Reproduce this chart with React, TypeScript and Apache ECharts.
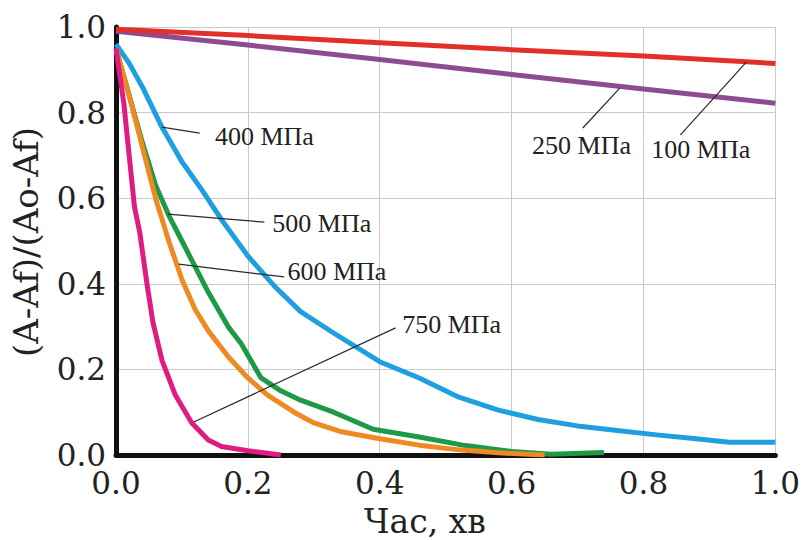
import React, { useEffect, useRef } from "react";
import * as echarts from "echarts";

// ---- data ----
const t100 = [0, 0.2, 0.4, 0.6, 0.8, 1.0];
const v100 = [0.995, 0.98, 0.963, 0.947, 0.932, 0.915];

const t250 = [0, 0.2, 0.4, 0.6, 0.8, 1.0];
const v250 = [0.99, 0.958, 0.924, 0.889, 0.855, 0.822];

const t400 = [0, 0.02, 0.04, 0.07, 0.1, 0.13, 0.16, 0.2, 0.24, 0.28, 0.33, 0.4, 0.46, 0.52, 0.58, 0.64, 0.7, 0.76, 0.82, 0.88, 0.93, 1.0];
const v400 = [0.96, 0.915, 0.86, 0.765, 0.685, 0.62, 0.55, 0.465, 0.395, 0.335, 0.285, 0.218, 0.18, 0.135, 0.105, 0.083, 0.068, 0.057, 0.047, 0.038, 0.03, 0.03];

const t500 = [0, 0.02, 0.04, 0.06, 0.08, 0.1, 0.12, 0.14, 0.17, 0.19, 0.22, 0.25, 0.28, 0.33, 0.39, 0.46, 0.53, 0.6, 0.66, 0.74];
const v500 = [0.95, 0.84, 0.73, 0.63, 0.56, 0.5, 0.44, 0.38, 0.3, 0.26, 0.18, 0.15, 0.128, 0.1, 0.06, 0.042, 0.022, 0.008, 0.002, 0.006];

const t600 = [0, 0.02, 0.04, 0.06, 0.08, 0.1, 0.12, 0.14, 0.17, 0.2, 0.23, 0.27, 0.3, 0.34, 0.4, 0.46, 0.52, 0.58, 0.65];
const v600 = [0.95, 0.84, 0.72, 0.6, 0.5, 0.41, 0.34, 0.29, 0.23, 0.18, 0.14, 0.1, 0.075, 0.055, 0.038, 0.023, 0.012, 0.005, 0.0];

const t750 = [0, 0.012, 0.02, 0.028, 0.036, 0.047, 0.056, 0.07, 0.09, 0.115, 0.14, 0.16, 0.2, 0.25];
const v750 = [0.95, 0.82, 0.7, 0.58, 0.52, 0.4, 0.31, 0.22, 0.14, 0.075, 0.035, 0.02, 0.01, 0.0];

const seriesNames = ["250 МПа", "100 МПа", "400 МПа", "500 МПа", "600 МПа", "750 МПа"];
const seriesColors = ["#8f4b92", "#e1302a", "#1e9fe0", "#1c9a45", "#ef8a22", "#de1c82"];
const seriesT = [t250, t100, t400, t500, t600, t750];
const seriesV = [v250, v100, v400, v500, v600, v750];

// annotation: label, anchor on curve [x,y], leader end [x,y], text anchor [x,y], alignment
const annLabels = ["400 МПа", "500 МПа", "600 МПа", "750 МПа", "250 МПа", "100 МПа"];
const annAnchor = [[0.0695, 0.766], [0.0785, 0.563], [0.095, 0.446], [0.118, 0.077], [0.764, 0.857], [0.956, 0.918]];
const annEnd = [[0.127, 0.752], [0.225, 0.544], [0.255, 0.416], [0.424, 0.297], [0.708, 0.764], [0.856, 0.748]];
const annText = [[0.15, 0.745], [0.237, 0.542], [0.26, 0.428], [0.434, 0.306], [0.706, 0.724], [0.887, 0.713]];
const annAlign = ["left", "left", "left", "left", "center", "center"];

const xTitle = "Час, хв";
const yTitle = "(A-Af)/(Ao-Af)";

const SERIF_SMALL = "Liberation Serif";
const SERIF_BIG = "DejaVu Serif";

export default function App() {
  const ref = useRef<HTMLDivElement>(null);

  useEffect(() => {
    if (!ref.current) return;
    const chart = echarts.init(ref.current, undefined, { renderer: "svg" });

    const series = seriesNames.map((name, i) => ({
      name,
      type: "line",
      data: seriesT[i].map((t, j) => [t, seriesV[i][j]]),
      showSymbol: false,
      symbol: "none",
      smooth: false,
      lineStyle: { color: seriesColors[i], width: 5, join: "round" },
      itemStyle: { color: seriesColors[i] },
      z: 3 + i,
    }));

    const tickLabel = {
      fontSize: 31,
      fontFamily: SERIF_BIG,
      color: "#222",
      formatter: (v: number) => v.toFixed(1),
    };

    const option: any = {
      animation: false,
      backgroundColor: "#ffffff",
      grid: { left: 116, right: 25, top: 27, bottom: 85, containLabel: false },
      xAxis: {
        type: "value",
        min: 0,
        max: 1,
        interval: 0.2,
        axisLine: { show: true, onZero: false, lineStyle: { color: "#111", width: 5 } },
        axisTick: { show: false },
        axisLabel: { ...tickLabel, margin: 12 },
        splitLine: { show: true, lineStyle: { color: "#c9c9c9", width: 1 } },
      },
      yAxis: {
        type: "value",
        min: 0,
        max: 1,
        interval: 0.2,
        axisLine: { show: true, onZero: false, lineStyle: { color: "#111", width: 5 } },
        axisTick: { show: false },
        axisLabel: { ...tickLabel, margin: 10 },
        splitLine: { show: true, lineStyle: { color: "#c9c9c9", width: 1 } },
      },
      series,
    };
    chart.setOption(option);

    const px = (p: number[]) => chart.convertToPixel({ gridIndex: 0 }, p) as number[];
    const graphics: any[] = [];
    annLabels.forEach((label, i) => {
      const a = px(annAnchor[i]);
      const e = px(annEnd[i]);
      const t = px(annText[i]);
      graphics.push({
        type: "line",
        z: 100,
        shape: { x1: a[0], y1: a[1], x2: e[0], y2: e[1] },
        style: { stroke: "#2a2a2a", lineWidth: 1.2 },
      });
      graphics.push({
        type: "text",
        z: 100,
        x: t[0],
        y: t[1],
        style: {
          text: label,
          fontSize: 26,
          fontFamily: SERIF_SMALL,
          fill: "#222",
          align: annAlign[i],
          verticalAlign: "middle",
        },
      });
    });
    graphics.push({
      type: "text",
      z: 100,
      x: 425,
      y: 521,
      style: {
        text: xTitle,
        fontSize: 33,
        fontFamily: SERIF_BIG,
        fill: "#222",
        align: "center",
        verticalAlign: "middle",
      },
    });
    graphics.push({
      type: "text",
      z: 100,
      x: 26,
      y: 242,
      rotation: Math.PI / 2,
      style: {
        text: yTitle,
        fontSize: 34,
        fontFamily: SERIF_BIG,
        fill: "#222",
        align: "center",
        verticalAlign: "middle",
      },
    });
    chart.setOption({ graphic: graphics });

    return () => chart.dispose();
  }, []);

  return (
    <div
      ref={ref}
      style={{ position: "fixed", left: 0, top: 0, width: 803, height: 540, background: "#fff" }}
    />
  );
}
